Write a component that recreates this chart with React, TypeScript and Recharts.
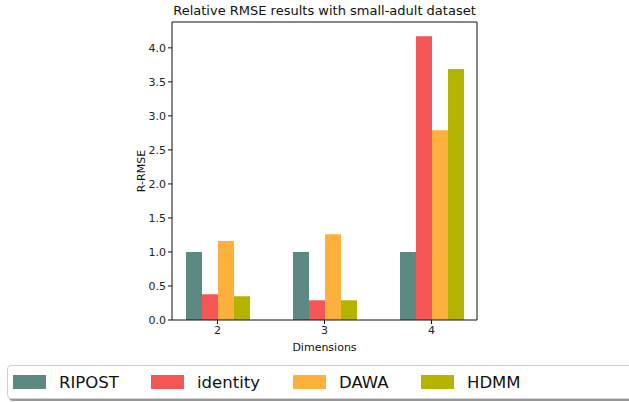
import React from 'react';
import { BarChart, Bar, XAxis, YAxis } from 'recharts';

const dimensions = ['2', '3', '4'];
const ripost = [1.0, 1.0, 1.0];
const identity = [0.38, 0.29, 4.17];
const dawa = [1.16, 1.26, 2.79];
const hdmm = [0.35, 0.29, 3.69];
const yTicks = [0, 0.5, 1, 1.5, 2, 2.5, 3, 3.5, 4];

const series = [
  { key: 'RIPOST', values: ripost, color: '#5c8a83' },
  { key: 'identity', values: identity, color: '#f65656' },
  { key: 'DAWA', values: dawa, color: '#fdb03b' },
  { key: 'HDMM', values: hdmm, color: '#b3b300' },
];

const data = dimensions.map((d, i) => {
  const row: Record<string, string | number> = { dim: d };
  series.forEach((s) => (row[s.key] = s.values[i]));
  return row;
});

const font = 'DejaVu Sans, sans-serif';
const tickStyle = { fontSize: 11, fill: '#222', fontFamily: font };

export default function App() {
  return (
    <div style={{ position: 'absolute', left: 0, top: 0, width: 629, height: 402, background: '#fff', fontFamily: font }}>
      <div style={{ position: 'absolute', left: 172, width: 305, top: 3, textAlign: 'center', fontSize: 13, color: '#111', whiteSpace: 'nowrap' }}>
        Relative RMSE results with small-adult dataset
      </div>
      <BarChart width={629} height={402} data={data} margin={{ top: 21, right: 151, bottom: 0, left: 120 }} barGap={0} barSize={16}>
        <XAxis
          dataKey="dim"
          padding={{ left: -8, right: -8 }}
          height={82}
          tickSize={4}
          tick={tickStyle}
          stroke="#111"
          tickLine={{ stroke: '#111' }}
          label={{ value: 'Dimensions', position: 'insideTop', offset: 23, style: { fontSize: 11, fill: '#111', fontFamily: font } }}
        />
        <XAxis xAxisId="top" orientation="top" dataKey="dim" height={1} tick={false} tickLine={false} stroke="#111" />
        <YAxis
          domain={[0, 4.38]}
          ticks={yTicks}
          width={52}
          tickSize={4}
          tick={tickStyle}
          stroke="#111"
          tickFormatter={(v: number) => v.toFixed(1)}
          allowDataOverflow
          label={{ value: 'R-RMSE', angle: -90, position: 'insideLeft', offset: 21, style: { fontSize: 11, fill: '#111', fontFamily: font, textAnchor: 'middle' } }}
        />
        <YAxis yAxisId="right" orientation="right" width={1} tick={false} tickLine={false} stroke="#111" />
        {series.map((s) => (
          <Bar key={s.key} dataKey={s.key} fill={s.color} isAnimationActive={false} />
        ))}
      </BarChart>
      <div
        style={{
          position: 'absolute',
          left: 7,
          top: 365,
          width: 640,
          height: 34,
          border: '1px solid #d0d0d0',
          borderRadius: 4,
          boxShadow: '2px 2px 0 #999',
          boxSizing: 'border-box',
          background: '#fff',
        }}
      >
        {series.map((s, i) => (
          <div key={s.key} style={{ position: 'absolute', left: [5, 143, 285, 413][i], top: 0, height: 32, display: 'flex', alignItems: 'center' }}>
            <span style={{ display: 'inline-block', width: 33, height: 14, background: s.color }} />
            <span style={{ marginLeft: 13, fontSize: 16.5, color: '#111' }}>{s.key}</span>
          </div>
        ))}
      </div>
    </div>
  );
}
